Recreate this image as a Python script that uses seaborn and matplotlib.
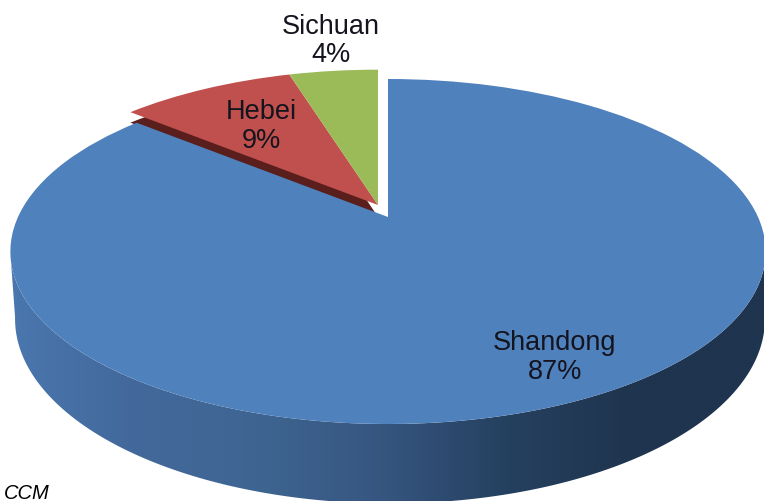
import numpy as np
import matplotlib
matplotlib.use("Agg")
import matplotlib.pyplot as plt
from matplotlib.colors import ListedColormap
from matplotlib.patches import Polygon
from matplotlib.transforms import Transform
import seaborn as sns

provinces = ["Shandong", "Hebei", "Sichuan"]
shares_drawn = [86.1, 9.2, 4.7]
shares_printed = ["87%", "9%", "4%"]
source_note = "CCM"

slice_colors = ["#4F81BD", "#C0504D", "#9BBB59"]
red_face_color = "#5A1F1C"
side_stops = ["#4A78B0", "#43699C", "#3E6592", "#365680", "#25405F", "#1F344E", "#1F344E"]

sns.set_theme(style="white")
plt.rcParams["font.family"] = ["Liberation Sans", "DejaVu Sans"]


# The pie is a unit circle, this tilts it into the 3D look of the original
class TiltedDisc(Transform):
    input_dims = 2
    output_dims = 2

    def __init__(self, cx, cy, a, b, k):
        super().__init__()
        self.cx, self.cy, self.a, self.b, self.k = cx, cy, a, b, k

    def transform_non_affine(self, values):
        values = np.asarray(values, dtype=float)
        x, y = values[:, 0], values[:, 1]
        w = 1 + self.k * y
        return np.column_stack([self.cx + self.a * x / w, (self.cy - self.b * y) / w])


blue_top = TiltedDisc(388, 218, 370, 122, 0.2)
blue_base = TiltedDisc(390, 280, 366, 115, 0.217)
small_top = TiltedDisc(378, 206, 368, 120, 0.217)
red_face = TiltedDisc(378, 218, 368, 120, 0.217)

fig, ax = plt.subplots(figsize=(7.64, 5.02), dpi=100)
fig.subplots_adjust(0, 0, 1, 1)

# side wall: gradient clipped to the band between top and bottom rims
ang = np.radians(np.linspace(192, 348, 200))
rim = np.column_stack([np.cos(ang), np.sin(ang)])
band = np.vstack([blue_top.transform(rim), blue_base.transform(rim)[::-1]])
side_cmap = ListedColormap(sns.blend_palette(side_stops, 256))
img = ax.imshow(np.linspace(0, 1, 256)[None, :], cmap=side_cmap, extent=(0, 764, 502, 0),
                aspect="auto", zorder=1)
clip = Polygon(band, closed=True, transform=ax.transData, facecolor="none", edgecolor="none")
ax.add_patch(clip)
img.set_clip_path(clip)

# dark cut face under the Hebei slice
under, _ = ax.pie(shares_drawn, startangle=90, counterclock=False, colors=slice_colors)
for i, w in enumerate(under):
    w.set_visible(i == 1)
    w.set_facecolor(red_face_color)
    w.set_linewidth(0)
    w.set_zorder(2)
    w.set_transform(red_face + ax.transData)

wedges, _ = ax.pie(shares_drawn, startangle=90, counterclock=False, colors=slice_colors)
for i, w in enumerate(wedges):
    w.set_linewidth(0)
    w.set_zorder(3)
    w.set_transform((blue_top if i == 0 else small_top) + ax.transData)

ax.set_aspect("auto")
ax.set_xlim(0, 764)
ax.set_ylim(502, 0)
ax.axis("off")

label_pos = [(555, 357.5), (261, 126.5), (331, 41)]
for name, pct, (x, y) in zip(provinces, shares_printed, label_pos):
    ax.text(x, y, name + "\n" + pct, ha="center", va="center", fontsize=19.5,
            linespacing=1.12, color="#14141E", zorder=5)

ax.text(4, 499, source_note, ha="left", va="baseline", fontsize=14.5, style="italic",
        color="black", zorder=5)

fig.savefig("out.png", dpi=100)
